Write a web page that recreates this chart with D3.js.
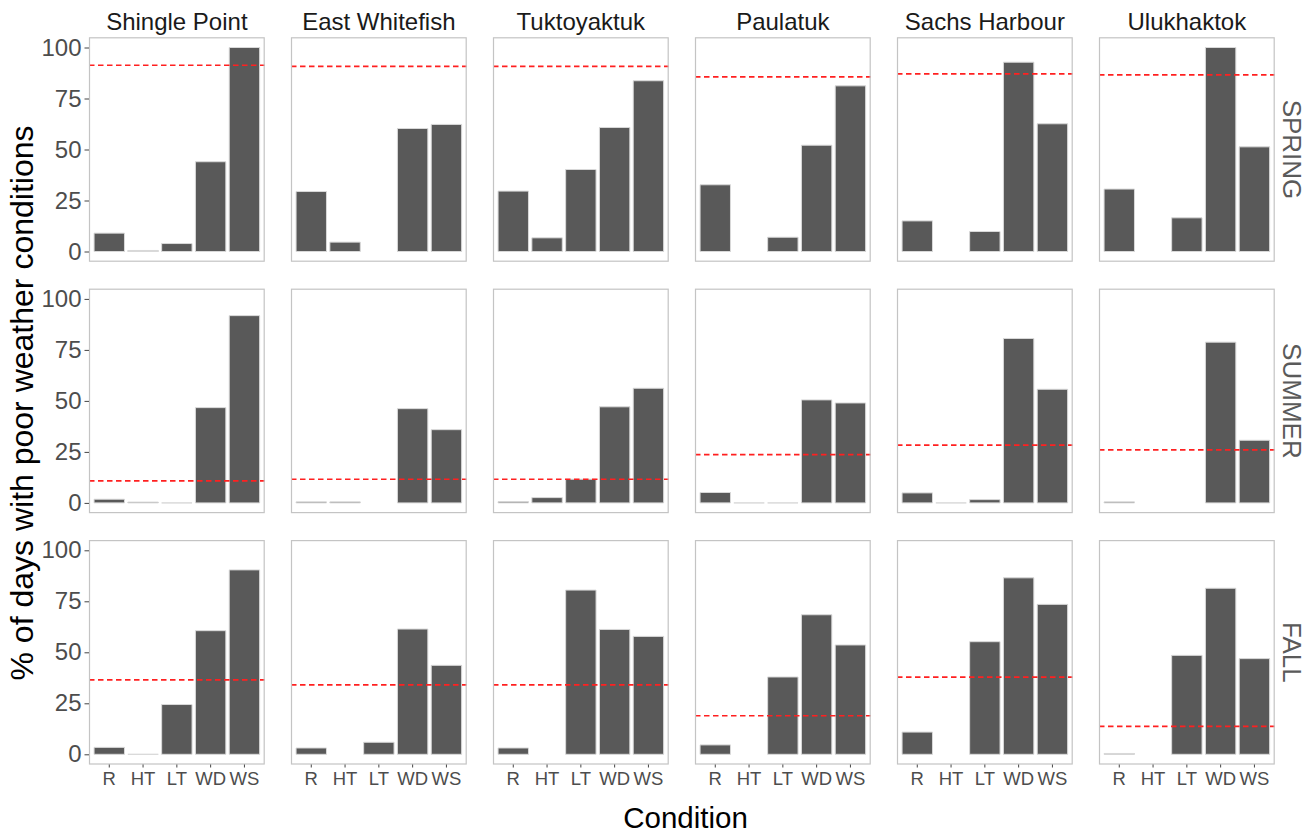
<!DOCTYPE html>
<html>
<head>
<meta charset="utf-8">
<script src="https://cdn.jsdelivr.net/npm/d3@7/dist/d3.min.js"></script>
<style>
  html, body { margin: 0; padding: 0; background: #fff; }
  svg { display: block; font-family: "Liberation Sans", Arial, Helvetica, sans-serif; }
</style>
</head>
<body>
<svg id="chart" width="1314" height="832"></svg>
<script>
// Stations (facet columns), seasons (facet rows) and weather conditions (x axis)
const stations = ["Shingle Point", "East Whitefish", "Tuktoyaktuk", "Paulatuk", "Sachs Harbour", "Ulukhaktok"];
const seasons = ["SPRING", "SUMMER", "FALL"];
const conditions = ["R", "HT", "LT", "WD", "WS"];
const yTicks = [0, 25, 50, 75, 100];

// % of days with poor weather, one row per station in the order R, HT, LT, WD, WS
// (null = condition not recorded for that station/season)
const springValues = [
  [9.0, 0.5, 3.9, 44.0, 100],
  [29.4, 4.6, null, 60.3, 62.3],
  [29.6, 6.7, 40.2, 60.8, 83.7],
  [32.7, null, 7.0, 52.1, 81.2],
  [15.0, null, 9.8, 92.8, 62.6],
  [30.6, null, 16.5, 100, 51.3]
];
const summerValues = [
  [1.8, 0.4, 0, 46.7, 91.8],
  [0.5, 0.5, null, 46.2, 35.9],
  [0.6, 2.6, 11.6, 47.1, 56.2],
  [5.1, 0, 0, 50.5, 49.0],
  [4.9, 0, 1.6, 80.6, 55.7],
  [0.5, null, null, 78.8, 30.7]
];
const fallValues = [
  [3.4, 0, 24.4, 60.6, 90.4],
  [3.1, null, 5.9, 61.4, 43.6],
  [3.1, null, 80.5, 61.2, 57.8],
  [4.6, null, 37.9, 68.4, 53.6],
  [10.9, null, 55.2, 86.5, 73.5],
  [0.4, null, 48.5, 81.4, 46.9]
];

// Seasonal % of days with any poor weather (dashed reference line), per station
const springAny = [91.3, 90.7, 90.7, 85.6, 87.1, 86.6];
const summerAny = [10.8, 11.6, 11.6, 23.7, 28.3, 26.0];
const fallAny = [36.5, 34.0, 34.0, 18.9, 37.8, 13.7];

const seasonValues = [springValues, summerValues, fallValues];
const seasonAny = [springAny, summerAny, fallAny];

// Panel grid geometry
const gridLeft = 89, gridTop = 37.3;
const panelW = 175.7, panelH = 224.4;
const gapX = 26.3, gapY = 27;

const svg = d3.select("#chart");

const x = d3.scaleBand().domain(conditions).range([0, panelW])
  .paddingInner(0.1).paddingOuter(0.15);
const y = d3.scaleLinear().domain([-5, 105]).range([panelH, 0]);

seasons.forEach((season, r) => {
  stations.forEach((station, c) => {
    const px = gridLeft + c * (panelW + gapX);
    const py = gridTop + r * (panelH + gapY);
    const g = svg.append("g").attr("transform", `translate(${px},${py})`);

    g.append("rect")
      .attr("width", panelW).attr("height", panelH)
      .attr("fill", "#fff");

    const rows = conditions.map((k, i) => ({ k, v: seasonValues[r][c][i] }))
      .filter(d => d.v !== null);

    // Bars drawn as closed paths so zero-valued bars still show their outline
    g.selectAll("path.bar").data(rows).join("path")
      .attr("class", "bar")
      .attr("d", d => {
        const x0 = x(d.k), x1 = x0 + x.bandwidth();
        const y0 = y(0), y1 = y(d.v);
        return `M${x0},${y0}H${x1}V${y1}H${x0}Z`;
      })
      .attr("fill", "#595959")
      .attr("stroke", "#d9d9d9")
      .attr("stroke-width", 1);

    // Seasonal reference line
    g.append("line")
      .attr("x1", 0).attr("x2", panelW)
      .attr("y1", y(seasonAny[r][c])).attr("y2", y(seasonAny[r][c]))
      .attr("stroke", "#ff2020")
      .attr("stroke-width", 1.7)
      .attr("stroke-dasharray", "5.5,3.5");

    // Panel border
    g.append("rect")
      .attr("x", 0.5).attr("y", 0.5)
      .attr("width", panelW - 1).attr("height", panelH - 1)
      .attr("fill", "none")
      .attr("stroke", "#c4c4c4")
      .attr("stroke-width", 1.2);

    // Y axis on the first column
    if (c === 0) {
      const ya = g.append("g").call(d3.axisLeft(y).tickValues(yTicks).tickSize(4.5).tickPadding(3));
      ya.select(".domain").remove();
      ya.selectAll(".tick line").attr("stroke", "#444").attr("stroke-width", 1);
      ya.selectAll(".tick text")
        .attr("fill", "#4d4d4d")
        .attr("font-size", "24px")
        .attr("font-family", "Liberation Sans, Arial, sans-serif");
    }

    // X axis on the bottom row
    if (r === seasons.length - 1) {
      const xa = g.append("g").attr("transform", `translate(0,${panelH})`)
        .call(d3.axisBottom(x).tickSize(3).tickPadding(4));
      xa.select(".domain").remove();
      xa.selectAll(".tick line").attr("stroke", "#444").attr("stroke-width", 1);
      xa.selectAll(".tick text")
        .attr("fill", "#4d4d4d")
        .attr("font-size", "18.5px")
        .attr("font-family", "Liberation Sans, Arial, sans-serif");
    }

    // Column strip labels
    if (r === 0) {
      svg.append("text")
        .attr("x", px + panelW / 2).attr("y", 29.5)
        .attr("text-anchor", "middle")
        .attr("font-size", "24px")
        .attr("fill", "#1a1a1a")
        .text(station);
    }
  });

  // Row strip labels
  const cy = gridTop + r * (panelH + gapY) + panelH / 2;
  svg.append("text")
    .attr("transform", `translate(1283,${cy}) rotate(90)`)
    .attr("text-anchor", "middle")
    .attr("font-size", "26px")
    .attr("fill", "#5a5a5a")
    .text(season);
});

// Axis titles
svg.append("text")
  .attr("x", 685.5).attr("y", 827.5)
  .attr("text-anchor", "middle")
  .attr("font-size", "29.5px")
  .attr("fill", "#000")
  .text("Condition");

svg.append("text")
  .attr("transform", "translate(33,403) rotate(-90)")
  .attr("text-anchor", "middle")
  .attr("font-size", "32px")
  .attr("fill", "#000")
  .text("% of days with poor weather conditions");
</script>
</body>
</html>
